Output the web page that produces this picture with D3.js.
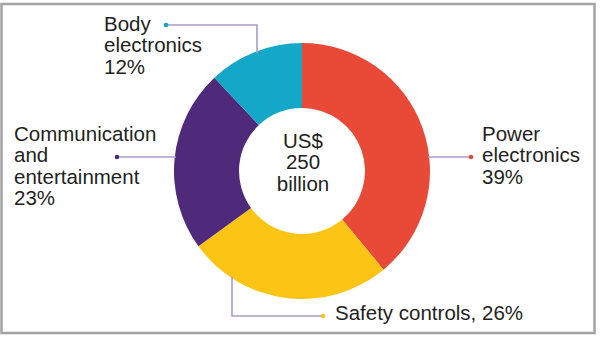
<!DOCTYPE html>
<html>
<head>
<meta charset="utf-8">
<script src="https://cdn.jsdelivr.net/npm/d3@7"></script>
<style>
  html, body { margin: 0; padding: 0; background: #fff; }
  svg { display: block; }
  text { font-family: "Liberation Sans", Arial, sans-serif; fill: #231f20; }
</style>
</head>
<body>
<svg id="chart" width="600" height="338"></svg>
<script>
// Automotive electronics market share by segment (clockwise from 12 o'clock)
const segments = ["Power electronics", "Safety controls", "Communication and entertainment", "Body electronics"];
const shares = [39, 26, 23, 12];
const colors = ["#e84a37", "#fcc415", "#4f2a7b", "#14a8c8"];

// Label lines for each segment
const labelLines = [
  ["Power", "electronics", "39%"],
  ["Safety controls, 26%"],
  ["Communication", "and", "entertainment", "23%"],
  ["Body", "electronics", "12%"]
];
const centerLines = ["US$", "250", "billion"];

const svg = d3.select("#chart");
const W = 600, H = 338;
const cx = 302, cy = 171, rOuter = 128, rInner = 63;

// frame
svg.append("rect")
  .attr("x", 1.5).attr("y", 4).attr("width", 593).attr("height", 329)
  .attr("fill", "none").attr("stroke", "#a3a3a3").attr("stroke-width", 2.5);

const pie = d3.pie().sort(null).value(d => d.value).startAngle(0).endAngle(2 * Math.PI);
const arcs = pie(segments.map((s, i) => ({ name: s, value: shares[i], color: colors[i] })));
const arc = d3.arc().innerRadius(rInner).outerRadius(rOuter);

const g = svg.append("g").attr("transform", `translate(${cx},${cy})`);
g.selectAll("path.slice")
  .data(arcs)
  .join("path")
  .attr("class", "slice")
  .attr("d", arc)
  .attr("fill", d => d.data.color);

// Leader lines: each is anchored on the outer edge of its slice
const leaderColor = "#a89ccc";
const lineStyle = sel => sel.attr("fill", "none").attr("stroke", leaderColor).attr("stroke-width", 1.6);
const edgeY = (x, sign) => cy + sign * Math.sqrt(rOuter * rOuter - (x - cx) * (x - cx));

// Power electronics: horizontal to the right
const pX = cx + rOuter - 2;
lineStyle(svg.append("path").attr("d", `M${pX},157 H471`));
svg.append("circle").attr("cx", 471).attr("cy", 157).attr("r", 2.3).attr("fill", colors[0]);

// Safety controls: down from the bottom edge, then right
const sX = 232;
lineStyle(svg.append("path").attr("d", `M${sX},${edgeY(sX, 1) - 2} V316 H323`));
svg.append("circle").attr("cx", 323).attr("cy", 316).attr("r", 2.3).attr("fill", colors[1]);

// Communication and entertainment: horizontal to the left
const cX = cx - rOuter + 2;
lineStyle(svg.append("path").attr("d", `M${cX},157 H117`));
svg.append("circle").attr("cx", 117).attr("cy", 157).attr("r", 2.3).attr("fill", colors[2]);

// Body electronics: up from the top edge, then left
const bX = 257;
lineStyle(svg.append("path").attr("d", `M${bX},${edgeY(bX, -1) + 2} V25 H166`));
svg.append("circle").attr("cx", 166).attr("cy", 25).attr("r", 2.3).attr("fill", colors[3]);

// Labels
const fs = 20.5, lh = 21.3;
function block(lines, x, y, anchor) {
  const t = svg.append("text")
    .attr("x", x).attr("y", y)
    .attr("font-size", fs)
    .attr("text-anchor", anchor || "start");
  lines.forEach((l, i) => {
    t.append("tspan").attr("x", x).attr("dy", i === 0 ? 0 : lh).text(l);
  });
}
block(labelLines[0], 482, 141);
block(labelLines[1], 335, 320);
block(labelLines[2], 14, 141);
block(labelLines[3], 104, 31);
block(centerLines, cx + 1, 148, "middle");
</script>
</body>
</html>
